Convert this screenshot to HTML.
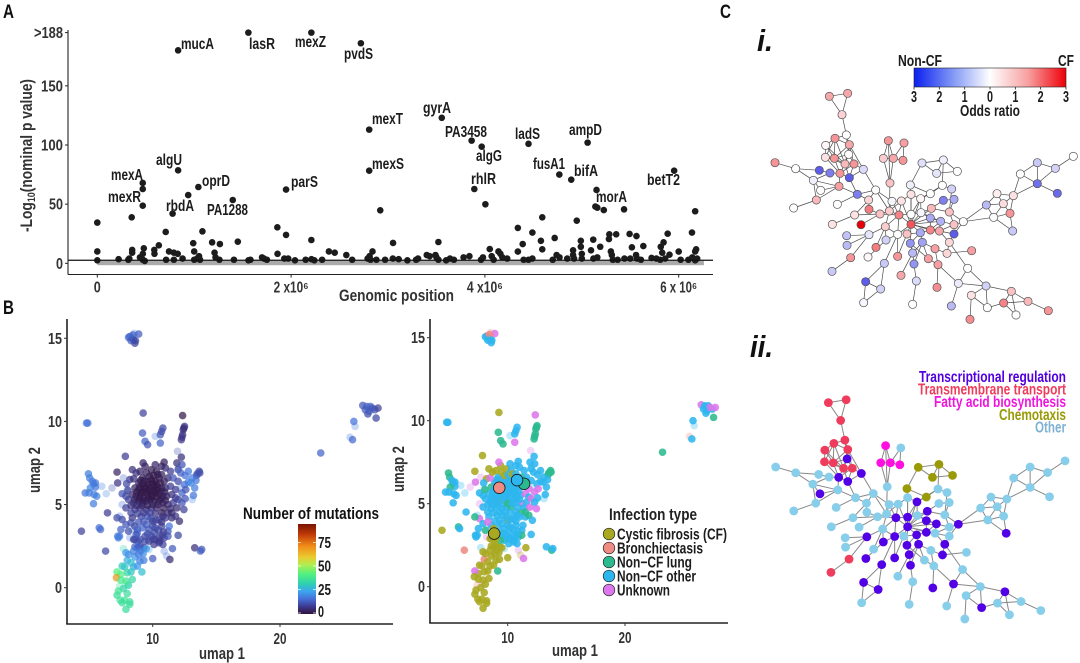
<!DOCTYPE html>
<html lang="en">
<head>
<meta charset="utf-8">
<title>Genomic association figure</title>
<style>
html,body{margin:0;padding:0;background:#fff;}
#figure{display:block;}
text{font-family:"Liberation Sans",sans-serif;font-weight:bold;}
.gene{font-size:15.500px;fill:#1c1c1c;}
.tick{font-size:15.500px;fill:#333;}
.title{font-size:17px;fill:#333;}
.leg{font-size:15.500px;fill:#1c1c1c;}
.panel{font-size:19px;fill:#111;}
.roman{font-size:31px;font-style:italic;fill:#111;}
.cat{font-size:15.500px;}
</style>
</head>
<body>
<svg id="figure" xmlns="http://www.w3.org/2000/svg" width="1080" height="663" viewBox="0 0 1080 663">
<rect width="1080" height="663" fill="#fff"/>
<defs>
<linearGradient id="mutGradient" x1="0" y1="1" x2="0" y2="0"></linearGradient>
<linearGradient id="oddsGradient" x1="0" y1="0" x2="1" y2="0">
<stop offset="0" stop-color="#0a1ff0"/><stop offset=".25" stop-color="#7f95f5"/><stop offset=".5" stop-color="#ffffff"/><stop offset=".75" stop-color="#f7a0a0"/><stop offset="1" stop-color="#ee0008"/>
</linearGradient>
</defs>
<text class="panel" x="3" y="18" textLength="11" lengthAdjust="spacingAndGlyphs">A</text>
<text class="panel" x="3" y="314" textLength="11" lengthAdjust="spacingAndGlyphs">B</text>
<text class="panel" x="720" y="18" textLength="11" lengthAdjust="spacingAndGlyphs">C</text>

<g id="manhattan"></g>
<text class="title" transform="translate(32,232) rotate(-90)" textLength="153" lengthAdjust="spacingAndGlyphs">-Log<tspan font-size="11" dy="3">10</tspan><tspan dy="-3">(nominal p value)</tspan></text>
<text class="title" x="339" y="301" textLength="115" lengthAdjust="spacingAndGlyphs">Genomic position</text>
<g>
<text class="gene" x="181" y="49" textLength="33" lengthAdjust="spacingAndGlyphs">mucA</text>
<text class="gene" x="249" y="49" textLength="26" lengthAdjust="spacingAndGlyphs">lasR</text>
<text class="gene" x="295" y="47" textLength="31" lengthAdjust="spacingAndGlyphs">mexZ</text>
<text class="gene" x="344" y="59" textLength="29" lengthAdjust="spacingAndGlyphs">pvdS</text>
<text class="gene" x="372" y="124" textLength="31" lengthAdjust="spacingAndGlyphs">mexT</text>
<text class="gene" x="423" y="113" textLength="28" lengthAdjust="spacingAndGlyphs">gyrA</text>
<text class="gene" x="445" y="137" textLength="42" lengthAdjust="spacingAndGlyphs">PA3458</text>
<text class="gene" x="476" y="161" textLength="26" lengthAdjust="spacingAndGlyphs">algG</text>
<text class="gene" x="515" y="139" textLength="25" lengthAdjust="spacingAndGlyphs">ladS</text>
<text class="gene" x="569" y="135" textLength="33" lengthAdjust="spacingAndGlyphs">ampD</text>
<text class="gene" x="372" y="169" textLength="32" lengthAdjust="spacingAndGlyphs">mexS</text>
<text class="gene" x="533" y="169" textLength="32" lengthAdjust="spacingAndGlyphs">fusA1</text>
<text class="gene" x="574" y="176" textLength="24" lengthAdjust="spacingAndGlyphs">bifA</text>
<text class="gene" x="647" y="185" textLength="33" lengthAdjust="spacingAndGlyphs">betT2</text>
<text class="gene" x="471" y="184" textLength="25" lengthAdjust="spacingAndGlyphs">rhlR</text>
<text class="gene" x="596" y="202" textLength="31" lengthAdjust="spacingAndGlyphs">morA</text>
<text class="gene" x="291" y="187" textLength="27" lengthAdjust="spacingAndGlyphs">parS</text>
<text class="gene" x="202" y="186" textLength="28" lengthAdjust="spacingAndGlyphs">oprD</text>
<text class="gene" x="207" y="215" textLength="41" lengthAdjust="spacingAndGlyphs">PA1288</text>
<text class="gene" x="166" y="211" textLength="28" lengthAdjust="spacingAndGlyphs">rbdA</text>
<text class="gene" x="111" y="180" textLength="32" lengthAdjust="spacingAndGlyphs">mexA</text>
<text class="gene" x="108" y="202" textLength="33" lengthAdjust="spacingAndGlyphs">mexR</text>
<text class="gene" x="156" y="165" textLength="26" lengthAdjust="spacingAndGlyphs">algU</text>
</g>

<g id="umapLeft"></g>
<text class="title" transform="translate(40,493) rotate(-90)" textLength="46" lengthAdjust="spacingAndGlyphs">umap 2</text>
<text class="title" x="199" y="659" textLength="46" lengthAdjust="spacingAndGlyphs">umap 1</text>
<text class="title" style="fill:#111" x="243" y="519" textLength="136" lengthAdjust="spacingAndGlyphs">Number of mutations</text>
<rect x="298" y="524" width="18" height="90" fill="url(#mutGradient)"/>
<g id="mutTicks"></g>

<g id="umapRight"></g>
<text class="title" transform="translate(404,492) rotate(-90)" textLength="46" lengthAdjust="spacingAndGlyphs">umap 2</text>
<text class="title" x="552" y="656" textLength="46" lengthAdjust="spacingAndGlyphs">umap 1</text>
<text class="title" style="fill:#222" x="609" y="520" textLength="88" lengthAdjust="spacingAndGlyphs">Infection type</text>
<g id="infectionLegend"></g>

<text class="roman" x="757" y="51" textLength="16" lengthAdjust="spacingAndGlyphs">i.</text>
<text class="roman" x="750" y="357" textLength="23" lengthAdjust="spacingAndGlyphs">ii.</text>
<g>
<text class="leg" x="898" y="66" textLength="44" lengthAdjust="spacingAndGlyphs">Non-CF</text>
<text class="leg" x="1058" y="66" textLength="16" lengthAdjust="spacingAndGlyphs">CF</text>
<rect x="914" y="68" width="152" height="19" fill="url(#oddsGradient)" stroke="#222" stroke-width=".6"/>
<g id="oddsTicks"></g>
<text class="leg" x="960" y="116" textLength="60" lengthAdjust="spacingAndGlyphs">Odds ratio</text>
</g>
<g id="networkI"></g>
<g id="networkII"></g>
<g>
<text class="cat" fill="#5200e0" x="919" y="382" textLength="147" lengthAdjust="spacingAndGlyphs">Transcriptional regulation</text>
<text class="cat" fill="#f03c5c" x="918" y="394.500" textLength="148" lengthAdjust="spacingAndGlyphs">Transmembrane transport</text>
<text class="cat" fill="#f015dc" x="934" y="407" textLength="132" lengthAdjust="spacingAndGlyphs">Fatty acid biosynthesis</text>
<text class="cat" fill="#989a08" x="999" y="420" textLength="67" lengthAdjust="spacingAndGlyphs">Chemotaxis</text>
<text class="cat" fill="#7fb2d2" x="1035" y="432.500" textLength="31" lengthAdjust="spacingAndGlyphs">Other</text>
</g>
</svg>
<script>
// ---------- Panel A data ----------
const manhattanTickValues = [0, 50, 100, 150, 195];
const manhattanTickLabels = ['0', '50', '100', '150', '>188'];
const genomeTickValues = [0, 2, 4, 6];
const genomeTickLabels = ['0', '2 x10\u2076', '4 x10\u2076', '6 x 10\u2076'];
const genomeTickWidths = [7, 35, 36, 37];
const significanceThreshold = 2.6;
const hitPoints = [[.834,180],[1.559,195],[2.209,195],[2.72,186],[2.806,113],[3.555,123],[3.863,103.7],[3.967,98.6],[4.45,101],[5.06,102],[2.806,78.3],[4.768,75],[4.891,70.7],[5.953,78.3],[3.891,62.8],[4.005,49.9],[5.152,62],[5.14,48],[5.16,47],[5.227,45],[5.436,45.6],[6.17,44],[2.92,44.8],[4.592,38.9],[4.948,36],[1.948,62.3],[1.043,64.5],[.938,57.7],[1.398,53.5],[.777,42],[.469,67.9],[.469,62.8],[.469,48.7],[.355,38.9],[0,34.4],[.834,78.6]];
const midPoints = [[.706,26.5],[1.085,27],[1.858,30.4],[1.948,24],[2.209,19.7],[1.45,18.3],[1.185,17.7],[1.265,16.3],[.99,17],[.635,15.2],[.588,11.3],[.48,12.7],[.36,11.3],[0,10],[3.052,17.2],[3.52,18],[4.34,29.9],[4.49,26],[4.39,16.3],[4.34,9.9],[4.578,19],[4.592,11.8],[4.72,21.4],[4.99,19],[5.118,20],[5.095,11],[5.19,14],[5.284,24.5],[5.355,24.5],[5.28,20.5],[5.493,24.8],[5.564,23],[5.517,13.5],[5.635,14.6],[5.886,25],[5.844,17.7],[5.815,14],[6.137,26],[6.18,11.8],[6,9.9],[5.905,7.3]];
const lowPoints = [[0,2.5],[.22,3.5],[.32,3],[.33,4],[.36,9],[.44,5],[.47,8],[.47,3],[.49,2],[.59,8],[.71,3],[.74,10],[.79,3],[.79,9],[.83,8],[.88,4],[1,10],[1,3],[1.03,4],[1.05,6],[1.06,3],[1.21,9],[1.22,5],[1.26,3],[1.41,3],[1.58,3],[1.56,2.5],[1.7,5],[1.72,4],[1.75,3],[1.86,8],[1.93,4],[1.97,4],[2.04,2.5],[2.15,3],[2.21,3.5],[2.24,2.5],[2.32,3],[2.39,10],[2.45,9],[2.57,7],[2.63,3],[2.79,4],[2.81,6],[2.82,3],[2.84,10],[2.88,3],[2.97,3],[3.05,4],[3.11,3.5],[3.2,2.5],[3.29,3],[3.31,4],[3.4,7],[3.43,6],[3.49,7],[3.5,5],[3.52,3],[3.6,2.5],[3.64,4],[3.68,3],[3.78,5],[3.84,6],[3.96,3],[3.98,5],[4.05,12],[4.07,6],[4.09,3],[4.14,10],[4.16,8],[4.18,5],[4.23,4],[4.4,3],[4.45,3],[4.49,4],[4.7,3],[4.74,7],[4.77,5],[4.85,4],[4.91,11],[4.91,7],[4.92,4],[4.99,14],[5,8],[5,4],[5.12,4],[5.16,5],[5.3,10],[5.31,7],[5.32,3],[5.37,3],[5.44,4],[5.5,4],[5.56,7],[5.57,4],[5.61,3],[5.72,4.5],[5.77,4],[5.81,3],[5.83,9],[5.86,4],[6.02,3],[6.1,3],[6.14,5],[6.17,10],[6.19,4],[6.17,2.5]];

// ---------- Panel B data: [umap1, umap2, mutations, infection type] ----------
const infectionNames = ['Cystic fibrosis (CF)', 'Bronchiectasis', 'Non\u2212CF lung', 'Non\u2212CF other', 'Unknown'];
const infectionWidths = [110, 86, 75, 79, 53];
const infectionColors = ['#a8a921', '#ee8b82', '#2cb98f', '#2db6ee', '#dc78ec'];
const mutationTickValues = [0, 25, 50, 75];
const umapXTicks = [10, 20];
const umapYTicks = [0, 5, 10, 15];
const topCluster = [[8.2,15.1,13,1],[8.1,15.05,15,3],[8.35,15,15,3],[8.5,14.9,12,3],[8.6,14.7,9,3],[8.9,15.25,13,4],[8.45,15.2,14,1],[8.3,14.85,13,3],[8.65,14.85,10,3]];
const farCluster = [[26.5,10.96,12,4],[26.8,10.9,14,3],[27.1,10.9,14,3],[27.45,10.7,12,3],[27.7,10.8,9,4],[26.9,10.45,11,3],[27.55,10.2,10,2],[25.8,10,16,3],[25.7,8.9,15,3],[23.2,8.1,14,2],[27,10.6,13,3],[27.25,10.8,12,4],[26.7,10.7,13,3]];
const upperBranches = [[4.8,9.9,17,3],[4.9,9.9,16,3],[9.25,10.5,9,0],[12.35,10.35,1,4],[12.5,9.7,6,2],[12.4,9.5,6,2],[12.35,9.2,6,2],[12.25,8.9,7,2],[10.8,9.6,10,3],[10.6,9.2,12,3],[10.6,8.7,14,4],[9.2,9.3,13,2],[9.4,8.8,14,2],[9.6,8.6,12,2],[7.85,7.9,8,0],[12.25,7.85,6,3],[9.25,7.5,4,4],[7.2,6.95,4,0],[8.4,7.1,6,0],[7.25,6.3,7,4],[10.7,9.4,11,3],[12.45,9.6,6,2],[12.3,9.05,7,2]];
const leftLobe = [[4.95,6.85,18,2],[5.05,6.6,18,2],[5.35,6.25,18,2],[5.5,6.05,17,3],[5.1,6,19,2],[4.7,5.7,17,3],[5.6,5.5,19,3],[5.35,5.05,18,3],[6.45,4.5,8,3],[4.4,3.4,9,0],[5.8,3.6,16,2],[6.3,2.2,10,1],[7.3,3,18,3],[5.25,6.4,18,3],[5.5,6.3,17,3],[5,5.7,18,3],[5.4,5.6,18,3],[5.9,3.5,15,3],[7.25,3.1,18,3]];
const rightLobe = [[13.7,6.9,10,2],[13.45,6.75,12,2],[13.65,7,10,2],[12.55,6.75,16,3],[12.8,6.35,18,3],[13.3,6,18,3],[13.2,5.55,17,3],[12.3,5.7,14,4],[12.55,5.35,12,3],[12.45,4.7,9,4],[11.9,4.8,5,4],[12.1,4,5,3],[12,3.15,10,3],[13.3,2.4,6,3],[13.75,2.2,14,2],[13.85,2.3,13,3],[11.35,1.7,5,4],[11.55,2.35,13,0],[10,1.75,13,0],[12,7.1,10,3],[11.9,7.5,6,3],[12.3,7.4,12,3],[12.2,6.9,14,3],[12.8,7,17,3],[13.1,6.6,18,3],[12.5,6.2,16,3],[13,6.3,20,3],[12,6.4,10,3],[11.8,5.9,8,4],[12.6,5.9,12,4],[12,5.3,9,4],[12.3,5.1,12,3],[13.5,6.85,12,2],[13.4,6.45,17,3]];
const coreCluster = [[9.2,6.6,3,3],[9.5,6.9,3,0],[9.9,7.1,2,0],[10.3,7,2,3],[10.7,7.3,3,3],[10.9,7.55,3,3],[11,7.2,5,3],[8.9,6.3,3,3],[9.2,6.2,2,3],[9.6,6.4,1,1],[9.9,6.5,2,3],[10.2,6.4,1,3],[10.5,6.6,2,3],[10.9,6.4,3,3],[11.2,6.6,5,2],[8.6,6,3,2],[8.9,5.9,2,3],[9.2,5.8,2,3],[9.5,6,1,0],[9.8,6,1,3],[10.1,6.1,1,3],[10.4,6,1,3],[10.7,6,2,3],[11,6,4,3],[11.4,6.1,8,2],[8.4,5.6,4,3],[8.7,5.5,3,3],[9,5.5,2,3],[9.3,5.4,2,3],[9.6,5.6,1,3],[9.9,5.6,1,2],[10.2,5.7,1,3],[10.5,5.6,1,3],[10.8,5.5,2,3],[11.1,5.5,3,3],[11.5,5.6,6,4],[8.1,5.3,8,3],[8.5,5.1,6,3],[8.9,5.2,4,3],[9.2,5.1,3,3],[9.5,5.2,2,0],[9.8,5.3,2,3],[10.1,5.2,2,3],[10.5,5.2,2,3],[10.8,5.1,3,3],[11.2,5,4,4],[11.6,5.1,8,3],[7.9,4.8,9,3],[8.6,4.7,8,3],[9,4.8,6,3],[9.5,4.7,6,3],[9.9,4.8,7,3],[10.3,4.8,4,2],[10.7,4.5,3,3],[11.2,4.5,4,2],[11.5,4.2,5,3],[8.4,4.2,7,3],[9.1,4.3,10,3],[9.6,4.3,12,3],[10,4,5,0],[10.5,4.1,10,3],[11,4.2,8,3],[7.6,4.1,10,4],[7.2,4.2,11,2],[7.9,3.8,12,3],[8.6,3.7,10,3],[9.2,3.6,14,3],[9.7,3.5,12,3],[10.2,3.6,10,3],[10.7,3.7,9,3],[11.2,3.4,12,3],[11.3,3.7,16,3],[8.1,3.4,11,2],[8.8,3.3,16,0],[9.4,3.1,10,3],[9.9,3.1,10,3],[10.2,2.9,8,3],[10.5,3,9,3],[10.9,3,8,3],[11.2,3.1,12,2],[8.6,2.9,10,0],[9.7,2.8,8,3],[10.1,2.6,8,3],[10.5,2.7,8,3],[10.8,2.6,9,3],[9,2.5,10,0],[8.8,2.4,12,0],[9.3,2.4,10,0]];
const coreFill = [[9.05,6.45,2,3],[9.35,6.45,2,3],[9.75,6.7,2,0],[10.05,6.75,1,3],[10.4,6.8,2,0],[10.7,6.8,3,3],[9,6.05,2,3],[9.35,6.05,1,3],[9.65,6.2,1,3],[10,6.3,1,3],[10.3,6.2,1,3],[10.6,6.3,2,3],[8.75,5.75,2,3],[9.1,5.7,1,3],[9.45,5.75,1,3],[9.75,5.8,1,3],[10.05,5.85,1,3],[10.35,5.85,1,3],[10.65,5.8,2,3],[10.95,5.75,3,3],[8.6,5.3,3,3],[8.95,5.35,2,3],[9.25,5.25,2,3],[9.65,5.4,2,3],[9.95,5.45,1,3],[10.3,5.45,1,3],[10.65,5.35,2,3],[11,5.25,3,3],[8.3,4.95,6,3],[8.75,4.95,5,3],[9.15,4.95,4,3],[9.6,4.95,3,3],[10,5,3,2],[10.4,5,3,3],[10.85,4.8,3,3],[11.4,4.75,5,3],[8.3,4.5,9,3],[8.8,4.45,9,3],[9.3,4.5,8,3],[9.8,4.5,9,3],[10.2,4.45,7,3],[10.8,4.3,6,3],[9.3,4,12,3],[9.85,4.15,11,3],[10.25,4.05,9,3],[10.7,3.95,7,3],[8.9,3.95,12,3],[8.3,3.9,11,4],[7.5,3.5,14,3],[7.4,3.1,16,3],[9.5,3.8,13,3],[10,3.7,11,3],[10.45,3.45,10,3],[10.85,3.35,9,3],[9.6,3.25,11,3],[10.15,3.3,10,3],[10.55,2.8,8,3],[10.75,3.15,9,3],[10,2.9,9,3],[9.4,2.8,10,2],[9,2.9,11,0],[8.85,2.8,11,0],[7.6,5.65,12,3],[7.9,5.5,10,3],[8.05,5.85,9,2],[8.2,6.5,8,0],[8.5,6.55,6,4],[7.95,6.25,10,3],[8.7,6.9,7,0],[9,7,4,0],[9.4,7.3,3,0],[10.2,7.4,4,3],[11.4,7,8,3],[11.6,6.6,12,3],[11.8,5.4,8,3],[11.5,4.5,5,2],[11.8,4.3,7,2],[8.8,3.5,14,0]];
const lowerTail = [[7.9,-1.3,36,0],[8.2,-.85,36,0],[7.8,-.75,38,0],[7.45,-.75,38,0],[7.2,-.45,36,0],[8,-.35,36,0],[7.7,-.05,34,0],[8.1,.15,32,0],[7.5,.8,42,0],[7.2,.95,42,4],[7.15,.6,70,0],[7.8,1.25,30,0],[8.4,.5,34,0],[9.15,.95,28,2],[8,1.65,26,1],[8.6,1.85,22,0],[8.5,1.25,26,0],[9,1.6,18,0],[9.25,2.05,20,0],[8.6,2.45,14,0],[8.9,2.45,14,0],[9.5,2.35,22,0],[8.5,2.9,10,0],[8.2,-1,36,0],[7.6,-.9,36,0],[7.3,-.2,38,0],[7.9,.4,38,0],[7.5,.45,40,0],[8,.9,34,0],[7.6,1.3,30,0],[8.3,1.5,28,0],[8.8,1.3,22,0],[8.3,.95,30,0],[8.1,2,20,0],[8.9,2,18,0],[9.3,1.65,18,0],[8.5,2.2,18,0],[9.05,2.2,18,0],[8.7,3.2,12,0],[7.9,2.1,22,0]];
const paleCluster = [[8.55,15.3,20,1],[25.9,9.7,18,3],[25.5,9.05,18,1],[10.2,9.1,18,3],[11.95,8.2,12,4],[6,6.1,18,3],[6.35,5.65,20,3],[6.8,6,12,4],[7.7,6.6,14,4],[8,5.9,18,3],[7.6,5,16,4],[7.4,4.3,16,3],[8.2,3,16,4],[8.4,3.5,18,3],[7.7,2.35,32,3],[9.7,2.3,24,3],[10.9,2.2,16,4],[11.1,1.9,16,0],[12,7.2,16,3],[12.2,6,16,3],[13.1,5.3,20,3],[7.9,.2,40,4],[7.4,.1,36,1]];
const highlightPoints = [[9.28,5.96,1],[11.4,6.2,2],[10.8,6.42,3],[8.85,3.2,0]];
const mutationStops = [[0,'#30123b'],[8,'#3d3a90'],[16,'#4670d8'],[24,'#3ba6ee'],[32,'#2fd0b0'],[42,'#50f080'],[52,'#b0ee50'],[60,'#eacb30'],[72,'#f08a18'],[84,'#c03a08'],[95,'#7a1403']];

// ---------- Panel C data: [layout x, layout y, odds ratio, category] ----------
const networkNodes = [[238,289,.8,'M'],[293,280,.8,'M'],[276,344,.35,'M'],[289,405,0,'M'],[255,415,1,'M'],[298,434,.8,'M'],[227,436,.05,'M'],[296,463,.02,'T'],[253,475,1,'M'],[226,472,.2,'M'],[285,492,.6,'M'],[312,492,1,'M'],[270,520,1,'T'],[340,508,-.3,'T'],[298,533,-2,'T'],[240,519,-1.5,'O'],[208,511,-2,'O'],[137,506,0,'O'],[75,488,1,'O'],[190,541,-.1,'O'],[212,571,0,'T'],[267,559,.9,'O'],[199,600,.6,'O'],[131,624,0,'O'],[322,583,-1.5,'O'],[377,570,0,'O'],[262,613,0,'O'],[356,600,.3,'O'],[357,628,1.3,'O'],[314,645,.2,'O'],[247,673,.2,'O'],[333,674,3,'O'],[390,642,.5,'O'],[418,633,.4,'O'],[406,680,.4,'O'],[290,707,-.6,'O'],[291,736,-.7,'O'],[357,704,-.2,'T'],[408,720,-.4,'T'],[378,742,1.3,'O'],[302,773,1,'M'],[246,814,-.5,'M'],[354,771,.05,'T'],[443,703,0,'T'],[443,769,1,'T'],[403,790,-.5,'T'],[347,845,-2,'T'],[392,867,-.4,'T'],[341,908,-.05,'O'],[453,826,.8,'O'],[488,759,-.7,'T'],[492,792,-1.2,'T'],[499,843,-.3,'O'],[488,913,0,'O'],[481,730,-1.2,'T'],[517,727,-1,'T'],[535,776,.9,'O'],[555,746,.9,'O'],[591,760,.3,'T'],[665,752,.9,'O'],[564,794,.9,'O'],[561,862,1.1,'T'],[625,850,-.15,'T'],[653,805,0,'O'],[604,918,-.7,'O'],[664,886,.2,'O'],[660,958,1.1,'O'],[708,858,-.4,'O'],[712,923,0,'T'],[784,874,.5,'T'],[761,909,1.2,'O'],[798,945,0,'O'],[834,904,.6,'O'],[895,932,1,'O'],[483,673,1.8,'T'],[447,645,1.2,'T'],[483,643,0,'T'],[513,638,-.05,'O'],[454,603,.2,'O'],[426,604,-.05,'O'],[483,583,.2,'O'],[512,596,.05,'T'],[541,581,0,'C'],[481,555,-.1,'C'],[516,489,-.25,'C'],[580,480,-.1,'C'],[560,520,-.2,'C'],[622,514,0,'C'],[577,556,0,'O'],[605,567,-.4,'O'],[580,601,-1.5,'O'],[612,598,-.9,'O'],[544,625,.6,'T'],[598,636,.5,'O'],[541,654,-.9,'T'],[572,664,-.8,'T'],[612,674,.5,'O'],[640,665,0,'T'],[511,698,-.9,'T'],[541,690,1.2,'T'],[568,693,.8,'O'],[471,702,.5,'O'],[612,702,-2,'O'],[598,727,.3,'T'],[709,615,-.7,'O'],[731,652,-.02,'O'],[760,611,.25,'O'],[741,581,.1,'O'],[790,587,.2,'O'],[780,640,1,'O'],[788,693,-.5,'T'],[811,522,0,'O'],[862,488,-.5,'O'],[862,551,-1.7,'O'],[916,505,-.4,'O'],[922,580,-1.8,'O'],[970,469,0,'O'],[415,422,1,'F'],[462,429,.9,'O'],[400,475,.4,'F'],[430,475,.8,'F'],[459,481,1,'F'],[420,549,.5,'O']];
const networkEdges = [[0,1],[0,2],[1,2],[2,3],[3,4],[3,5],[3,7],[4,5],[4,6],[4,8],[4,9],[4,10],[5,7],[5,8],[5,10],[5,11],[6,8],[6,9],[6,10],[7,8],[7,10],[7,11],[8,9],[8,10],[8,12],[9,10],[9,12],[10,11],[10,12],[10,14],[11,12],[11,14],[12,14],[11,13],[13,14],[13,5],[12,15],[15,16],[16,17],[17,18],[17,19],[15,19],[19,20],[19,21],[19,22],[20,21],[21,12],[21,22],[22,23],[21,24],[14,24],[24,25],[13,25],[25,27],[24,26],[24,27],[29,30],[29,27],[29,32],[31,32],[28,32],[27,28],[32,33],[33,34],[32,75],[33,75],[33,78],[33,79],[25,79],[25,33],[122,117],[122,119],[122,120],[122,33],[117,119],[117,120],[118,120],[118,121],[119,120],[120,121],[34,37],[37,35],[37,36],[34,38],[34,43],[43,38],[43,44],[43,45],[43,74],[43,75],[39,34],[40,37],[41,40],[42,38],[45,46],[45,47],[46,47],[46,48],[47,48],[49,50],[50,54],[50,55],[51,50],[51,55],[51,52],[52,53],[44,101],[74,75],[74,76],[74,77],[74,78],[74,80],[74,81],[74,92],[74,94],[74,95],[74,98],[74,99],[74,100],[74,101],[74,54],[75,76],[75,78],[75,79],[75,34],[76,77],[76,80],[76,81],[77,81],[77,92],[77,94],[77,95],[81,82],[80,81],[80,83],[83,82],[82,88],[78,80],[79,78],[94,95],[94,99],[95,99],[95,100],[95,96],[96,97],[96,100],[97,93],[97,102],[93,92],[93,96],[99,100],[99,98],[98,101],[98,55],[98,54],[100,102],[100,103],[102,103],[57,58],[58,59],[103,58],[103,63],[57,55],[56,55],[56,54],[60,56],[60,61],[60,62],[57,60],[62,64],[62,63],[62,67],[63,67],[65,67],[65,66],[65,68],[67,68],[67,69],[69,70],[69,71],[69,72],[70,71],[70,72],[72,73],[68,70],[84,85],[84,86],[85,86],[85,87],[86,87],[84,83],[85,88],[88,89],[90,91],[88,81],[89,93],[90,92],[91,93],[97,104],[97,105],[104,105],[104,106],[104,107],[105,106],[105,109],[106,107],[106,108],[106,109],[107,108],[108,109],[109,110],[105,110],[108,113],[108,111],[111,112],[111,113],[112,113],[112,114],[113,114],[113,115],[114,116]];
const categoryColors = {T:'#5200e6', M:'#f03c5c', F:'#ff10e0', C:'#9a9a06', O:'#87ceeb'};
const oddsTickLabels = ['3','2','1','0','1','2','3'];

// ---------- Drawing helpers ----------
const NS = 'http://www.w3.org/2000/svg';
function make(tag, parent, props) {
  const el = document.createElementNS(NS, tag);
  for (const k in props) el.setAttribute(k, props[k]);
  parent.appendChild(el);
  return el;
}
function hex(c){return [parseInt(c.slice(1,3),16),parseInt(c.slice(3,5),16),parseInt(c.slice(5,7),16)];}
function mutationColor(v){
  const s = mutationStops;
  if (v <= s[0][0]) return s[0][1];
  for (let i = 1; i < s.length; i++) {
    if (v <= s[i][0]) {
      const t = (v - s[i-1][0]) / (s[i][0] - s[i-1][0]);
      const a = hex(s[i-1][1]), b = hex(s[i][1]);
      return 'rgb(' + a.map((x,j)=>Math.round(x+(b[j]-x)*t)).join(',') + ')';
    }
  }
  return s[s.length-1][1];
}
function oddsColor(v){
  const t = Math.min(1, Math.abs(v)/3);
  const target = v >= 0 ? [232,0,8] : [30,30,225];
  const a = Math.pow(t, .8);
  return 'rgb(' + target.map(x=>Math.round(255+(x-255)*a)).join(',') + ')';
}

// ---------- Panel A ----------
const manhattan = document.getElementById('manhattan');
const mx = pos => 97.3 + pos * 96.9;
const my = val => 263.3 - val * 1.183;
const band = make('rect', manhattan, {x:mx(0), y:my(2.1), width:mx(6.26)-mx(0), height:my(-1.6)-my(2.1), fill:'#aaaaaa'});


[lowPoints, midPoints, hitPoints].forEach(group => group.forEach(p => {
  const dot = make('circle', manhattan, {cx:mx(p[0]), cy:my(p[1]), r:3.3, fill:'#1c1c1c'});
  
  
}));
const threshold = make('line', manhattan, {x1:68, x2:713, y1:my(significanceThreshold), y2:my(significanceThreshold), stroke:'#111', 'stroke-width':1.2});


const mAxisY = make('line', manhattan, {x1:68, x2:68, y1:30, y2:274.5, stroke:'#222', 'stroke-width':1.1});


const mAxisX = make('line', manhattan, {x1:68, x2:713, y1:274.5, y2:274.5, stroke:'#222', 'stroke-width':1.1});


manhattanTickValues.forEach((v,i) => {
  const y = my(v);
  make('line', manhattan, {x1:65, x2:68, y1:y, y2:y, stroke:'#222', 'stroke-width':1});
  const label = make('text', manhattan, {x:63, y:y+5.5, 'text-anchor':'end', class:'tick'});
  
  
  label.setAttribute('textLength', String(i === 4 ? 29 : (i === 0 ? 7 : (i === 1 ? 14 : 22))));
  label.setAttribute('lengthAdjust', 'spacingAndGlyphs');
  label.textContent = manhattanTickLabels[i];
});
genomeTickValues.forEach((v,i) => {
  const x = mx(v);
  make('line', manhattan, {x1:x, x2:x, y1:274.5, y2:277.5, stroke:'#222', 'stroke-width':1});
  const label = make('text', manhattan, {x:x - genomeTickWidths[i]/2, y:292.5, class:'tick'});
  
  
  label.setAttribute('textLength', String(genomeTickWidths[i]));
  label.setAttribute('lengthAdjust', 'spacingAndGlyphs');
  label.textContent = genomeTickLabels[i];
});

// ---------- Panel B ----------
const allGroups = [coreCluster, coreFill, upperBranches, leftLobe, rightLobe, lowerTail, topCluster, farCluster];
function drawUmap(host, sx, sy, axisX, axisY, axisEnd, colorOf, opacity, name) {
  paleCluster.forEach(p => {
    const pale = make('circle', host, {cx:sx(p[0]), cy:sy(p[1]), r:3.8, fill:colorOf(p), opacity:.3});
    
    
  });
  allGroups.forEach(group => group.forEach(p => {
    const dot = make('circle', host, {cx:sx(p[0]), cy:sy(p[1]), r:3.8, fill:colorOf(p), opacity:opacity});
    
    
  }));
  const ay = make('line', host, {x1:axisX, x2:axisX, y1:319, y2:axisY, stroke:'#222', 'stroke-width':1.6});
  
  
  const ax = make('line', host, {x1:axisX-.8, x2:axisEnd, y1:axisY, y2:axisY, stroke:'#222', 'stroke-width':1.6});
  
  
  umapYTicks.forEach(v => {
    make('line', host, {x1:axisX-3, x2:axisX, y1:sy(v), y2:sy(v), stroke:'#333', 'stroke-width':1});
    const label = make('text', host, {x:axisX-5, y:sy(v)+5.5, 'text-anchor':'end', class:'tick'});
    
    
    label.setAttribute('textLength', v >= 10 ? '14' : '7');
    label.setAttribute('lengthAdjust', 'spacingAndGlyphs');
    label.textContent = String(v);
  });
  umapXTicks.forEach(v => {
    make('line', host, {x1:sx(v), x2:sx(v), y1:axisY, y2:axisY+3, stroke:'#333', 'stroke-width':1});
    const label = make('text', host, {x:sx(v)-6.500, y:axisY+20, class:'tick'});
    
    
    label.setAttribute('textLength', '13');
    label.setAttribute('lengthAdjust', 'spacingAndGlyphs');
    label.textContent = String(v);
  });
}
drawUmap(document.getElementById('umapLeft'), u => 152.7 + (u-10)*12.73, v => 587.7 - v*16.63, 67, 624, 393, p => mutationColor(p[2]), .72, 'umap-left');
const rightX = u => 507.7 + (u-10)*11.73;
const rightY = v => 586.7 - v*16.6;
const umapRightGroup = document.getElementById('umapRight');
drawUmap(umapRightGroup, rightX, rightY, 430, 623, 728, p => infectionColors[p[3]], .88, 'umap-right');
highlightPoints.forEach(p => {
  const ring = make('circle', umapRightGroup, {cx:rightX(p[0]), cy:rightY(p[1]), r:5.8, fill:infectionColors[p[2]], stroke:'#111', 'stroke-width':.8});
  
  
});
const mutGradient = document.getElementById('mutGradient');
mutationStops.forEach(s => {
  make('stop', mutGradient, {offset:s[0]/95, 'stop-color':s[1]});
});
const mutTicks = document.getElementById('mutTicks');
mutationTickValues.forEach(v => {
  const y = 613 - v * .94;
  make('line', mutTicks, {x1:298, x2:301, y1:y, y2:y, stroke:'#fff', 'stroke-width':.7});
  make('line', mutTicks, {x1:313, x2:316, y1:y, y2:y, stroke:'#fff', 'stroke-width':.7});
  const label = make('text', mutTicks, {x:318, y:y + (v === 0 ? 4 : 5.5), class:'leg'});
  
  
  label.setAttribute('textLength', v === 0 ? '6' : '13');
  label.setAttribute('lengthAdjust', 'spacingAndGlyphs');
  label.textContent = String(v);
});
const legendHost = document.getElementById('infectionLegend');
infectionNames.forEach((n,i) => {
  const y = 534 + i * 14;
  const swatch = make('circle', legendHost, {cx:609, cy:y, r:5.8, fill:infectionColors[i], stroke:'#222', 'stroke-width':.7});
  
  
  const label = make('text', legendHost, {x:617, y:y+5.5, class:'leg'});
  
  
  label.setAttribute('textLength', String(infectionWidths[i]));
  label.setAttribute('lengthAdjust', 'spacingAndGlyphs');
  label.textContent = n;
});

// ---------- Panel C ----------
const oddsHost = document.getElementById('oddsTicks');
oddsTickLabels.forEach((t,i) => {
  const x = 914 + i * 152 / 6;
  make('line', oddsHost, {x1:x, x2:x, y1:87, y2:89.5, stroke:'#222', 'stroke-width':.8});
  const label = make('text', oddsHost, {x:x-3, y:102, class:'leg'});
  
  
  label.setAttribute('textLength', '6');
  label.setAttribute('lengthAdjust', 'spacingAndGlyphs');
  label.textContent = t;
});
function drawNetwork(host, px, py, edgeColor, edgeWidth, fillOf, stroke, name) {
  networkEdges.forEach(e => {
    const a = networkNodes[e[0]], b = networkNodes[e[1]];
    const link = make('line', host, {x1:px(a[0]), y1:py(a[1]), x2:px(b[0]), y2:py(b[1]), stroke:edgeColor, 'stroke-width':edgeWidth});
    
    
  });
  networkNodes.forEach(n => {
    const node = make('circle', host, {cx:px(n[0]), cy:py(n[1]), r:stroke ? 4.1 : 4.4, fill:fillOf(n)});
    if (stroke) {
      node.setAttribute('stroke', stroke);
      node.setAttribute('stroke-width', '.7');
    }
    
    
  });
}
drawNetwork(document.getElementById('networkI'), x => 750 + x/3, y => y/3, '#4a4a4a', .7, n => oddsColor(n[2]), '#555', 'network-i');
drawNetwork(document.getElementById('networkII'), x => 750 + (.97*x + 4.25)/3, y => 330 + (.97*y - 62.4)/3, '#888888', 1, n => categoryColors[n[3]], null, 'network-ii');
</script>
</body>
</html>
